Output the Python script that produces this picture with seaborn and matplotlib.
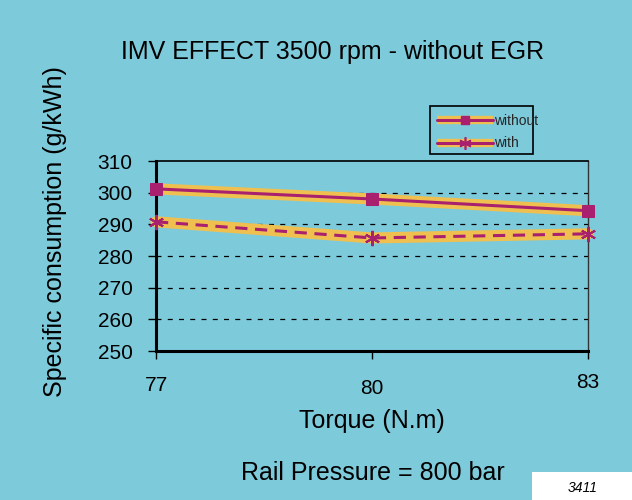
import matplotlib
matplotlib.use("Agg")
import matplotlib.pyplot as plt
import seaborn as sns
import pandas as pd
from matplotlib.patches import Rectangle
from matplotlib.lines import Line2D

torque = [77, 80, 83]
without_egr = [301.2, 298.0, 294.3]
with_egr = [290.8, 285.7, 287.0]
series_names = ["without", "with"]
y_ticks = [250, 260, 270, 280, 290, 300, 310]
x_ticks = [77, 80, 83]

sns.set_theme(style="white")
plt.rcParams['font.family'] = ['Liberation Sans', 'DejaVu Sans']

BG = "#7DCADB"
MAG = "#A8206E"
YEL = "#EFC050"

fig = plt.figure(figsize=(6.32, 5.0), dpi=100, facecolor=BG)
ax = fig.add_axes([156/632, 1-351/500, (588-156)/632, (351-161)/500])
ax.set_facecolor(BG)

df = pd.DataFrame({"torque": torque, "without": without_egr, "with": with_egr})

# yellow halos
sns.lineplot(data=df, x="torque", y="without", ax=ax, color=YEL, lw=8, clip_on=False, zorder=3)
sns.lineplot(data=df, x="torque", y="with", ax=ax, color=YEL, lw=8, clip_on=False, zorder=3)
# magenta lines
sns.lineplot(data=df, x="torque", y="without", ax=ax, color=MAG, lw=2.2, marker="s",
             markersize=8, markeredgecolor=MAG, clip_on=False, zorder=4)
sns.lineplot(data=df, x="torque", y="with", ax=ax, color=MAG, lw=2.2, marker=(6, 2, 0),
             markersize=11, markeredgewidth=1.5, markeredgecolor=MAG, clip_on=False, zorder=4,
             linestyle=(0, (4, 2.5)))

ax.set_xlim(77, 83)
ax.set_ylim(250, 310)
ax.set_xticks(x_ticks)
ax.set_yticks(y_ticks)
ax.set_xticklabels([str(t) for t in x_ticks])
ax.set_yticklabels([str(t) for t in y_ticks])
ax.tick_params(axis="y", direction="out", length=6, width=1, color="black", labelsize=15,
               labelcolor="black", pad=11, left=True)
ax.tick_params(axis="x", direction="out", length=6, width=1, color="black", labelsize=15,
               labelcolor="black", pad=12, bottom=True)
xoffs = [0.0, -0.016, 0.016]
for lab, off in zip(ax.get_xticklabels(), xoffs):
    lab.set_y(off)

for y in y_ticks[1:-1]:
    ax.axhline(y, color="black", lw=0.9, linestyle=(0, (4, 5)), zorder=1)

for side in ["left", "bottom"]:
    ax.spines[side].set_color("black")
    ax.spines[side].set_linewidth(2.2)
ax.spines["top"].set_color("black")
ax.spines["top"].set_linewidth(1.2)
ax.spines["right"].set_color("#333333")
ax.spines["right"].set_linewidth(1.0)

ax.set_xlabel("Torque (N.m)", fontsize=18, color="black")
ax.xaxis.set_label_coords((372-156)/432, -(421-351)/190)
ax.xaxis.label.set_va("center")
ax.set_ylabel("Specific consumption (g/kWh)", fontsize=18, color="black")
ax.yaxis.set_label_coords(-(156-55)/432, (351-232)/190)
ax.yaxis.label.set_va("center")
fig.suptitle("IMV EFFECT 3500 rpm - without EGR", x=333/632, y=1-52/500, va="center",
             fontsize=18, color="black")

# legend (frame drawn separately, as in the reference the text overhangs it)
h1 = (Line2D([], [], color=YEL, lw=6, solid_capstyle="butt"),
      Line2D([], [], color=MAG, lw=2.2, marker="s", markersize=6))
h2 = (Line2D([], [], color=YEL, lw=6, solid_capstyle="butt"),
      Line2D([], [], color=MAG, lw=2.2, marker=(6, 2, 0), markersize=9, markeredgewidth=1.2))
leg = fig.legend([h1, h2], series_names, loc="upper left",
                 bbox_to_anchor=(426/632, 1-103/500), fontsize=10, frameon=False,
                 handlelength=4.0, handletextpad=0.1, borderpad=0.3, labelspacing=0.6)
fig.patches.append(Rectangle((430/632, 1-154/500), 103/632, 48/500, transform=fig.transFigure,
                             facecolor="none", edgecolor="black", linewidth=1.2))

fig.text(373/632, 1-473/500, "Rail Pressure = 800 bar", fontsize=18, ha="center", va="center",
         color="black")
fig.patches.append(Rectangle((532/632, 0), 100/632, 28/500, transform=fig.transFigure,
                             facecolor="white", edgecolor="none"))
fig.text(583/632, 1-488/500, "3411", fontsize=10, style="italic", ha="center", va="center",
         color="black")

fig.savefig("out.png", dpi=100, facecolor=BG)
